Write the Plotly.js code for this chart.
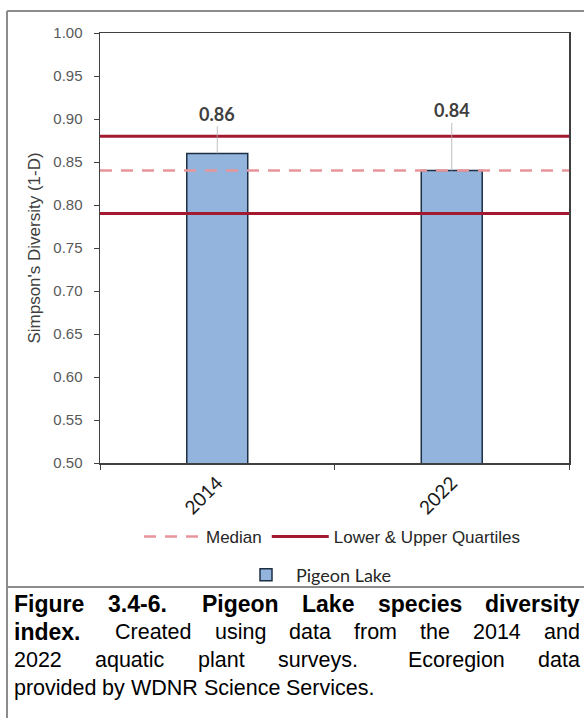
<!DOCTYPE html>
<html><head><meta charset="utf-8">
<script src="https://cdn.plot.ly/plotly-3.0.1.min.js"></script>
<style>html,body{margin:0;padding:0;background:#fff}#chart{width:584px;height:718px}</style>
</head><body><div id="chart"></div>
<script>
// ---- data ----
const years = ['2014', '2022'];
const diversity = [0.86, 0.84];
const valueLabels = ['0.86', '0.84'];
const labelHeights = [0.906, 0.910];
const medianValue = 0.84;
const lowerQuartile = 0.79;
const upperQuartile = 0.88;
const yTickVals = [0.50, 0.55, 0.60, 0.65, 0.70, 0.75, 0.80, 0.85, 0.90, 0.95, 1.00];
const yTickText = ['0.50', '0.55', '0.60', '0.65', '0.70', '0.75', '0.80', '0.85', '0.90', '0.95', '1.00'];
const seriesName = 'Pigeon Lake';
const yTitle = "Simpson's Diversity (1-D)";
const captionLines = [
  {words: [['Figure', 1], ['3.4-6.', 1], ['', 1], ['Pigeon', 1], ['Lake', 1], ['species', 1], ['diversity', 1]], justify: true},
  {words: [['index.', 1], ['', 0], ['Created', 0], ['using', 0], ['data', 0], ['from', 0], ['the', 0], ['2014', 0], ['and', 0]], justify: true},
  {words: [['2022', 0], ['aquatic', 0], ['plant', 0], ['surveys.', 0], ['', 0], ['Ecoregion', 0], ['data', 0]], justify: true},
  {words: [['provided', 0], ['by', 0], ['WDNR', 0], ['Science', 0], ['Services.', 0]], justify: false}
];

// ---- layout geometry (pixels) ----
const W = 584, H = 718;
const M = {l: 100, r: 15, t: 33, b: 255};
const PW = W - M.l - M.r, PH = H - M.t - M.b;
const px = x => (x - M.l) / PW;
const py = y => (H - M.b - y) / PH;

const AX = '#404040', TXT = '#595959';
const ARIAL = 'Liberation Sans, Arial, sans-serif';
const CAL = 'Lato, Carlito, sans-serif';

const traces = [
  {
    type: 'bar', x: years, y: diversity, name: seriesName,
    width: 0.26, xaxis: 'x', yaxis: 'y',
    marker: {color: '#93b4dd', line: {color: '#1c2f45', width: 1.5}},
    legend: 'legend2'
  },
  {
    type: 'scatter', mode: 'lines', xaxis: 'x2', yaxis: 'y',
    x: [0, 1], y: [medianValue, medianValue], name: 'Median',
    line: {color: '#e8959a', width: 2.5, dash: '12px,9px'}, legend: 'legend'
  },
  {
    type: 'scatter', mode: 'lines', xaxis: 'x2', yaxis: 'y',
    x: [0, 1, null, 0, 1], y: [lowerQuartile, lowerQuartile, null, upperQuartile, upperQuartile],
    name: 'Lower & Upper Quartiles',
    line: {color: '#a3192f', width: 3}, legend: 'legend'
  }
];

const annotations = years.map((yr, i) => ({
  x: i, y: diversity[i], xref: 'x', yref: 'y',
  text: '<b>' + valueLabels[i] + '</b>',
  showarrow: true, arrowhead: 0, arrowwidth: 0.8, arrowcolor: '#b0b0b0', standoff: 0,
  axref: 'x', ayref: 'y', ax: i, ay: labelHeights[i],
  font: {family: CAL, size: 18, color: AX}
}));

// caption (justified, measured)
const capReg = 21.5, capBold = 23, capLeft = 12, capRight = 578;
const capY = [604, 632, 660, 688];
const cv = document.createElement('canvas').getContext('2d');
function mw(t, b) { cv.font = (b ? 'bold ' + capBold : capReg) + 'px "Liberation Sans"'; return cv.measureText(t).width; }
captionLines.forEach((ln, li) => {
  const ws = [], after = [];
  ln.words.forEach(w => {
    if (w[0] === '') { after[after.length - 1] += 0.5; }
    else { ws.push(w); after.push(1); }
  });
  const weights = after.slice(0, ws.length - 1);
  const widths = ws.map(w => mw(w[0], w[1]));
  const total = widths.reduce((a, b) => a + b, 0);
  const wsum = weights.reduce((a, b) => a + b, 0);
  const gap = ln.justify ? (capRight - capLeft - total) / wsum : mw(' ', 0);
  let x = capLeft;
  ws.forEach((w, k) => {
    annotations.push({
      xref: 'paper', yref: 'paper', x: px(x), y: py(capY[li]), xanchor: 'left', yanchor: 'middle',
      text: w[1] ? '<b>' + w[0] + '</b>' : w[0], showarrow: false,
      font: {family: ARIAL, size: w[1] ? capBold : capReg, color: '#000'}
    });
    x += widths[k] + (k < weights.length ? weights[k] * gap : 0);
  });
});

const border = {color: '#8c8c8c', width: 2};
const shapes = [
  {type: 'line', xref: 'paper', yref: 'paper', x0: px(7), x1: px(7), y0: py(11), y1: py(H + 2), line: border},
  {type: 'line', xref: 'paper', yref: 'paper', x0: px(7), x1: px(W + 2), y0: py(11), y1: py(11), line: border},
  {type: 'line', xref: 'paper', yref: 'paper', x0: px(7), x1: px(W + 2), y0: py(587), y1: py(587), line: border}
];

const layout = {
  width: W, height: H, margin: M,
  paper_bgcolor: '#ffffff', plot_bgcolor: '#ffffff',
  showlegend: true,
  xaxis: {
    type: 'category', categoryorder: 'array', categoryarray: years, range: [-0.5, 1.5],
    tickson: 'boundaries', ticks: 'outside', ticklen: 5, tickcolor: AX,
    showline: true, linecolor: AX, linewidth: 1.5, mirror: true, showgrid: false,
    tickangle: -45, tickfont: {family: CAL, size: 19, color: '#1a1a1a'}, fixedrange: true
  },
  xaxis2: {overlaying: 'x', type: 'linear', range: [0, 1], visible: false, fixedrange: true},
  yaxis: {
    range: [0.5, 1.0], tickvals: yTickVals, ticktext: yTickText,
    ticks: 'outside', ticklen: 5, tickcolor: AX, ticklabelstandoff: 8,
    showline: true, linecolor: AX, linewidth: 1.5, mirror: true, showgrid: false, zeroline: false,
    tickfont: {family: ARIAL, size: 15, color: TXT},
    title: {text: yTitle, font: {family: ARIAL, size: 17, color: AX}, standoff: 8}, fixedrange: true
  },
  legend: {
    orientation: 'h', x: px(332), y: py(537), xanchor: 'center', yanchor: 'middle',
    font: {family: ARIAL, size: 17, color: '#262626'}, itemwidth: 57, bgcolor: 'rgba(0,0,0,0)', traceorder: 'normal'
  },
  legend2: {
    orientation: 'h', x: px(316), y: py(575), xanchor: 'center', yanchor: 'middle',
    font: {family: CAL, size: 18, color: '#262626'}, itemwidth: 50, bgcolor: 'rgba(0,0,0,0)'
  },
  annotations: annotations,
  shapes: shapes
};

Plotly.newPlot('chart', traces, layout, {displayModeBar: false, staticPlot: true});
</script>
</body></html>
